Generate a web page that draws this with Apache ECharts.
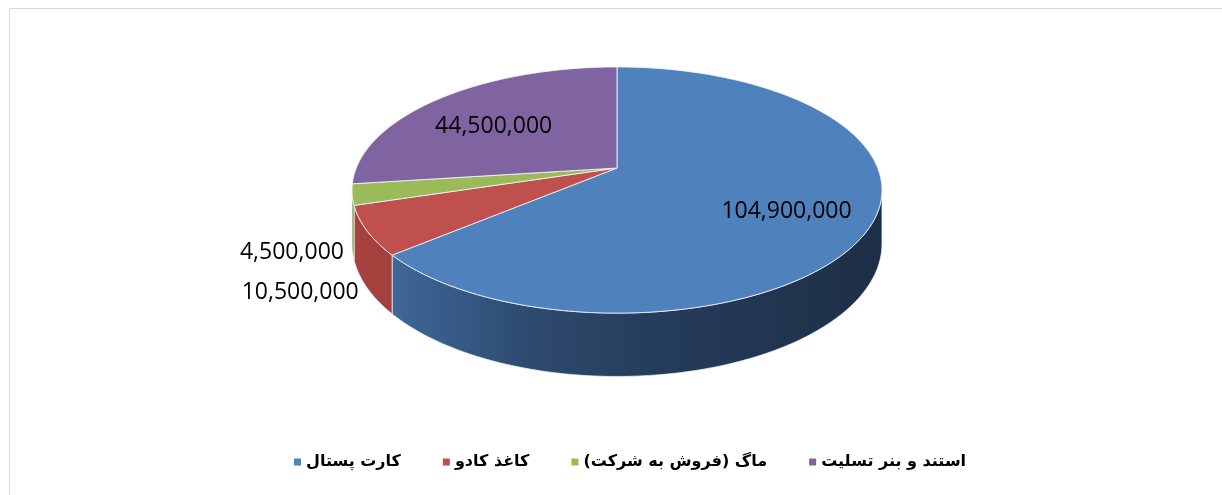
<!DOCTYPE html>
<html><head><meta charset="utf-8">
<script src="https://cdn.jsdelivr.net/npm/echarts@6/dist/echarts.min.js"></script>
<style>html,body{margin:0;padding:0;background:#fff}#c{width:1222px;height:495px}</style>
</head><body><div id="c"></div>
<script>
// ---- data ----
const categories = ['کارت پستال', 'کاغذ کادو', 'ماگ (فروش به شرکت)', 'استند و بنر تسلیت'];
const values = [104900000, 10500000, 4500000, 44500000];

// ---- styles ----
const topColors = ['#4F81BD', '#C0504D', '#9BBB59', '#8064A2'];
const sideStops = [
  [[0, '#4470a3'], [0.12, '#3c6291'], [0.35, '#2d496d'], [0.6, '#243b59'], [1, '#1d2f46']],
  [[0, '#a8423f'], [0.15, '#9e3c39'], [1, '#8a3330']],
  [[0, '#7f9a48'], [1, '#6f8a3e']],
  [[0, '#68518a'], [1, '#5a4679']]
];

// ---- layout of the 3D pie (projection parameters) ----
const CX = 617, CY = 168, K = 260.7, S = 0.457, P = 0.179, T = 52;
const total = values.reduce((a, b) => a + b, 0);
const cum = [0];
values.forEach(v => cum.push(cum[cum.length - 1] + v));
const TWO_PI = Math.PI * 2;
const VIS_LO = Math.acos(-P), VIS_HI = TWO_PI - Math.acos(-P);

function proj(r, th, down) {
  const X = r * Math.sin(th), Y = r * Math.cos(th);
  const d = 1 + P * Y;
  return [CX + K * X / d, CY - K * S * Y / d + (down ? T / d : 0)];
}
function arc(a, b, down) {
  const pts = [];
  const n = Math.max(2, Math.ceil(Math.abs(b - a) / (Math.PI / 180)));
  for (let j = 0; j <= n; j++) pts.push(proj(1, a + (b - a) * j / n, down));
  return pts;
}
const fmt = v => v.toLocaleString('en-US');

function makeRender(i) {
  return function (params, api) {
    const v = api.value(0);
    const a0 = cum[i] / total * TWO_PI;
    const a1 = a0 + v / total * TWO_PI;
    const children = [];
    const lo = Math.max(a0, VIS_LO), hi = Math.min(a1, VIS_HI);
    if (hi > lo) {
      const pts = arc(lo, hi, false).concat(arc(hi, lo, true));
      children.push({
        type: 'polygon', shape: { points: pts },
        style: {
          fill: new echarts.graphic.LinearGradient(CX - K * 1.02, 0, CX + K * 1.02, 0,
            sideStops[i].map(s => ({ offset: s[0], color: s[1] })), true),
          stroke: 'rgba(235,240,248,0.75)', lineWidth: 1
        }
      });
    }
    const topPts = [[CX, CY]].concat(arc(a0, a1, false));
    children.push({
      type: 'polygon', shape: { points: topPts },
      style: { fill: topColors[i], stroke: 'rgba(240,244,250,0.85)', lineWidth: 1 }
    });
    const mid = (a0 + a1) / 2;
    const frac = v / total;
    let tx, ty, align;
    if (frac > 0.1) {
      const p = proj(0.68, mid, false);
      tx = p[0]; ty = p[1] + 8; align = 'center';
    } else {
      const p = proj(1.03, mid, true);
      tx = p[0]; ty = p[1] + 3; align = 'right';
    }
    children.push({
      type: 'text', z2: 100,
      style: {
        text: fmt(v), x: tx, y: ty, fill: '#000',
        fontFamily: 'Open Sans', fontSize: 23,
        align: align, verticalAlign: 'middle'
      }
    });
    return { type: 'group', children: children };
  };
}

const series = categories.map((name, i) => ({
  type: 'custom', name: name, coordinateSystem: 'none',
  itemStyle: { color: topColors[i] },
  renderItem: makeRender(i),
  data: [[values[i]]],
  animation: false, silent: true
}));

const chart = echarts.init(document.getElementById('c'), null, { renderer: 'canvas' });
chart.setOption({
  backgroundColor: '#fff',
  animation: false,
  graphic: [{
    type: 'polyline', shape: { points: [[9.5, 495], [9.5, 8.5], [1222, 8.5]] },
    style: { stroke: '#d9d9d9', lineWidth: 1, fill: null }, silent: true
  }],
  legend: {
    top: 449, left: 289, icon: 'rect', itemWidth: 7, itemHeight: 7, itemGap: 42,
    data: categories,
    textStyle: { fontFamily: 'DejaVu Sans', fontWeight: 'bold', fontSize: 16, color: '#000' }
  },
  series: series
});
</script></body></html>
